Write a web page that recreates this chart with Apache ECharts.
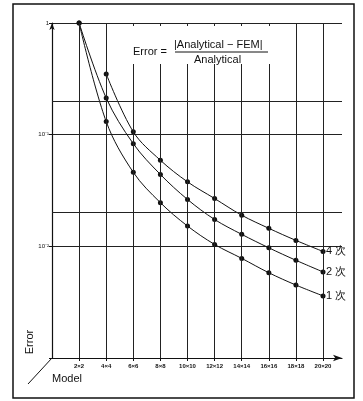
<!DOCTYPE html>
<html>
<head>
<meta charset="utf-8">
<script src="https://cdn.jsdelivr.net/npm/echarts@6/dist/echarts.min.js"></script>
<style>
  html, body { margin: 0; padding: 0; background: #fff; }
  #chart { width: 363px; height: 401px; }
</style>
</head>
<body>
<div id="chart"></div>
<script>
const models = ['2×2', '4×4', '6×6', '8×8', '10×10', '12×12', '14×14', '16×16', '18×18', '20×20']
const xPos = [1, 2, 3, 4, 5, 6, 7, 8, 9, 10]
const err1 = [1, 0.131, 0.046, 0.0246, 0.0152, 0.0104, 0.0078, 0.0058, 0.0045, 0.0036]
const err2 = [1, 0.213, 0.083, 0.044, 0.0263, 0.0174, 0.0128, 0.0097, 0.0075, 0.0059]
const err4 = [null, 0.35, 0.106, 0.059, 0.0378, 0.0268, 0.019, 0.0145, 0.0113, 0.009]
const seriesNames = ['1 次', '2 次', '4 次']
const yTickValues = [1, 0.1, 0.01]
const yTickLabels = ['1', '10⁻¹', '10⁻²']
const minorGrid = [0.2, 0.02, 0.002]

const toPairs = (arr) => xPos.map((x, i) => [x, arr[i]]).filter(p => p[1] != null)

const ink = '#111'
const font = 'Liberation Sans'

const makeSeries = (name, arr, extra) => Object.assign({
  name: name,
  type: 'line',
  data: toPairs(arr),
  smooth: 0.35,
  symbol: 'circle',
  symbolSize: 5,
  itemStyle: { color: ink },
  lineStyle: { color: ink, width: 1 },
  endLabel: {
    show: true,
    formatter: '{a}',
    color: ink,
    fontSize: 11,
    fontFamily: font,
    distance: 3
  }
}, extra || {})

const chart = echarts.init(document.getElementById('chart'))

chart.setOption({
  animation: false,
  backgroundColor: '#fff',
  grid: { left: 52, top: 23, right: 21, bottom: 43 },
  xAxis: {
    type: 'value',
    min: 0,
    max: 10.7,
    interval: 1,
    axisLine: {
      show: true,
      lineStyle: { color: ink, width: 1.2 },
      symbol: ['none', 'arrow'],
      symbolSize: [5, 9]
    },
    axisTick: { show: true, customValues: xPos, length: 3, lineStyle: { color: ink } },
    axisLabel: {
      customValues: xPos,
      formatter: v => models[v - 1] || '',
      fontSize: 6,
      fontWeight: 'bold',
      fontFamily: font,
      color: ink,
      margin: 5
    },
    splitLine: { show: false }
  },
  yAxis: {
    type: 'log',
    logBase: 10,
    min: 0.001,
    max: 1,
    axisLine: {
      show: true,
      lineStyle: { color: ink, width: 1.2 },
      symbol: ['none', 'arrow'],
      symbolSize: [4, 7]
    },
    axisTick: { show: true, length: 3, lineStyle: { color: ink } },
    axisLabel: {
      formatter: v => {
        let i = yTickValues.findIndex(t => Math.abs(Math.log10(t) - Math.log10(v)) < 1e-6)
        return i < 0 ? '' : yTickLabels[i]
      },
      fontSize: 6,
      fontFamily: font,
      color: ink,
      margin: 3
    },
    splitLine: { show: true, lineStyle: { color: '#222', width: 1 } }
  },
  series: [
    makeSeries(seriesNames[0], err1, {
      markLine: {
        silent: true,
        symbol: 'none',
        label: { show: false },
        lineStyle: { color: '#222', width: 1, type: 'solid' },
        data: [
          ...minorGrid.map(v => ({ yAxis: v })),
          ...xPos.map(x => ({ xAxis: x }))
        ]
      }
    }),
    makeSeries(seriesNames[1], err2),
    makeSeries(seriesNames[2], err4)
  ],
  graphic: [
    // outer frame
    {
      type: 'rect', z: 100,
      shape: { x: 13, y: 4, width: 341, height: 394 },
      style: { fill: 'none', stroke: ink, lineWidth: 1.5 }
    },
    // blank area behind the formula
    {
      type: 'rect', z: 100,
      shape: { x: 122, y: 26, width: 160, height: 38 },
      style: { fill: '#fff' }
    },
    {
      type: 'text', z: 101, left: 133, top: 46,
      style: { text: 'Error =', fontSize: 11, fontFamily: font, fill: ink }
    },
    {
      type: 'text', z: 101, left: 174, top: 39,
      style: { text: '|Analytical − FEM|', fontSize: 11, fontFamily: font, fill: ink }
    },
    {
      type: 'line', z: 101,
      shape: { x1: 175, y1: 52, x2: 268, y2: 52 },
      style: { stroke: ink, lineWidth: 1 }
    },
    {
      type: 'text', z: 101, left: 194, top: 54,
      style: { text: 'Analytical', fontSize: 11, fontFamily: font, fill: ink }
    },
    // pseudo depth axis and axis titles
    {
      type: 'line', z: 101,
      shape: { x1: 28, y1: 384, x2: 52, y2: 358 },
      style: { stroke: ink, lineWidth: 1 }
    },
    {
      type: 'text', z: 101, left: 52, top: 373,
      style: { text: 'Model', fontSize: 11, fontFamily: font, fill: ink }
    },
    {
      type: 'text', z: 101, x: 30, y: 342, rotation: Math.PI / 2,
      style: { text: 'Error', fontSize: 11, fontFamily: font, fill: ink, align: 'center', verticalAlign: 'middle' }
    }
  ]
})
</script>
</body>
</html>
